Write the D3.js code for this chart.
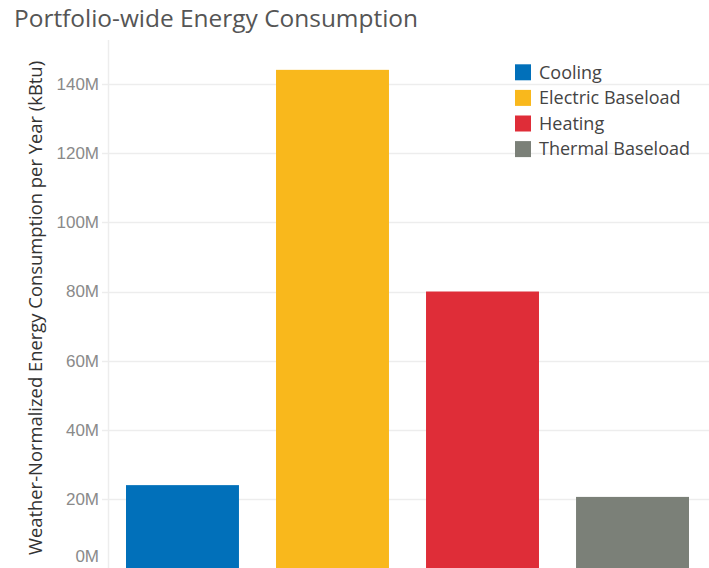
<!DOCTYPE html>
<html><head><meta charset="utf-8">
<script src="https://cdn.jsdelivr.net/npm/d3@7"></script>
<style>html,body{margin:0;padding:0;background:#fff;overflow:hidden}</style>
</head><body>
<svg id="c" width="709" height="568"></svg>
<script>
const categories = ["Cooling", "Electric Baseload", "Heating", "Thermal Baseload"];
const values = [24.1e6, 144.0e6, 80.0e6, 20.7e6];
const colors = ["#0170BA", "#F9B81C", "#DF2D38", "#7B8078"];
const tickValues = [0, 20e6, 40e6, 60e6, 80e6, 100e6, 120e6, 140e6];

const svg = d3.select("#c");
const x = d3.scaleBand().domain(categories).range([108, 707]).paddingInner(0.247).paddingOuter(0.12);
const y = d3.scaleLinear().domain([0, 140e6]).range([568.6, 83.7]);

// title
svg.append("text").attr("x", 14).attr("y", 27)
  .attr("font-family", "Open Sans").attr("font-size", 24).attr("fill", "#555")
  .attr("textLength", 404).attr("lengthAdjust", "spacingAndGlyphs")
  .text("Portfolio-wide Energy Consumption");

// gridlines
svg.append("g").selectAll("line").data(tickValues).join("line")
  .attr("x1", 102).attr("x2", 709)
  .attr("y1", d => Math.round(y(d)) + 0.5).attr("y2", d => Math.round(y(d)) + 0.5)
  .attr("stroke", "#ededed").attr("stroke-width", 1.5);

// axis line
svg.append("line").attr("x1", 108.5).attr("x2", 108.5).attr("y1", 40).attr("y2", 568)
  .attr("stroke", "#ededed").attr("stroke-width", 1.5);

// y axis
const axis = svg.append("g").attr("transform", "translate(102,0)")
  .call(d3.axisLeft(y).tickValues(tickValues).tickSize(0).tickPadding(3)
    .tickFormat(d => d3.format(".0f")(d / 1e6) + "M"));
axis.select(".domain").remove();
axis.selectAll("text").attr("font-family", "Liberation Sans, Arial").attr("font-size", 17).attr("fill", "#8a8a8a");
axis.selectAll(".tick").filter(d => d === 0).select("text").attr("dy", "-0.4em");

// axis title
svg.append("text").attr("transform", "translate(42,308) rotate(-90)")
  .attr("text-anchor", "middle")
  .attr("font-family", "Open Sans").attr("font-size", 18.4).attr("fill", "#333")
  .text("Weather-Normalized Energy Consumption per Year (kBtu)");

// bars
svg.append("g").selectAll("rect").data(categories).join("rect")
  .attr("x", d => x(d)).attr("width", x.bandwidth())
  .attr("y", (d, i) => y(values[i])).attr("height", (d, i) => y(0) - y(values[i]))
  .attr("fill", (d, i) => colors[i]);

// legend
const lg = svg.append("g").selectAll("g").data(categories).join("g")
  .attr("transform", (d, i) => `translate(515,${72.3 + i * 25.6})`);
lg.append("rect").attr("x", 0).attr("y", -8).attr("width", 16).attr("height", 16)
  .attr("fill", (d, i) => colors[i]);
lg.append("text").attr("x", 24).attr("y", 0).attr("dy", "0.35em")
  .attr("font-family", "Open Sans").attr("font-size", 18).attr("fill", "#444")
  .text(d => d);
</script>
</body></html>
